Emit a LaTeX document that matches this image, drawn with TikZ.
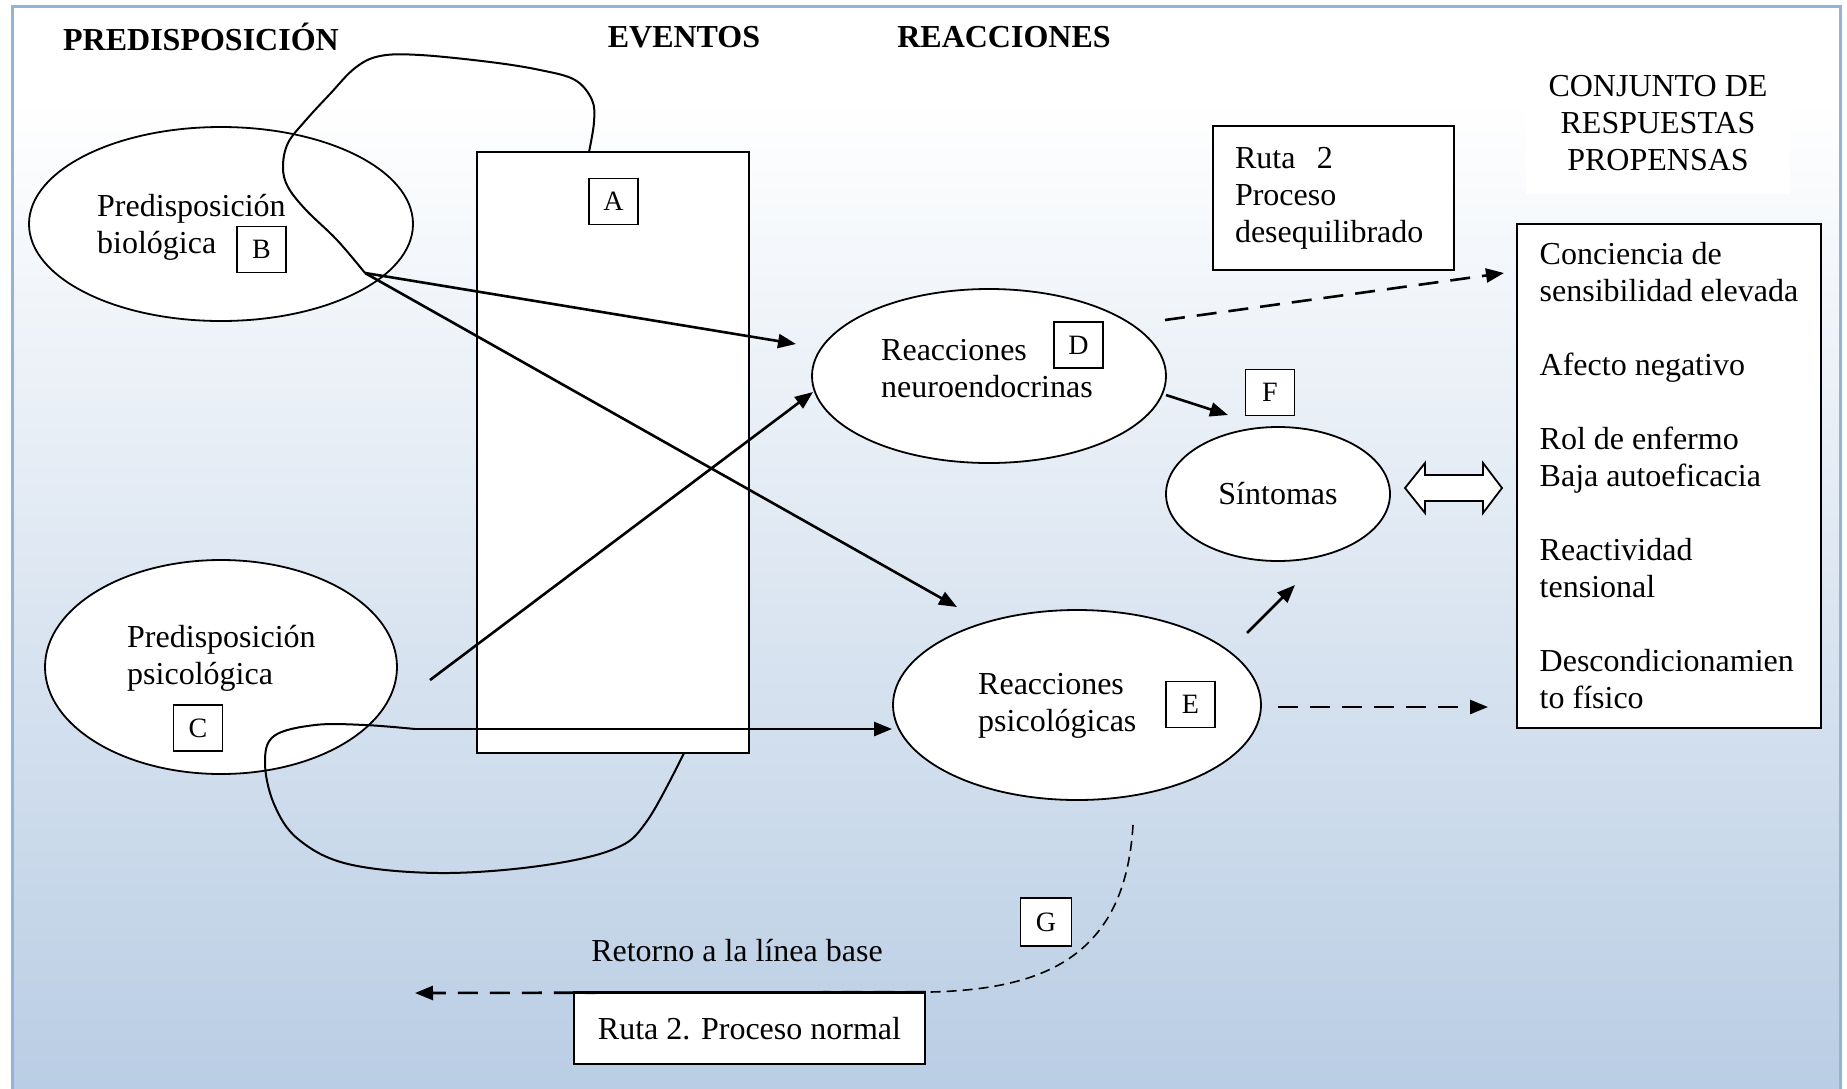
\documentclass[tikz,border=0pt]{standalone}
\usepackage{fontspec}
\setmainfont{Liberation Serif}
\usetikzlibrary{arrows.meta,shapes.geometric}
\definecolor{bgblue}{HTML}{B9CDE4}
\definecolor{frameblue}{HTML}{95B3D7}
\newcommand\bodyfont{\fontsize{32}{37}\selectfont}
\newcommand\letterfont{\fontsize{28}{32}\selectfont}
\tikzset{
  ell/.style={ellipse, draw, fill=white, line width=1.8pt, inner sep=0pt, outer sep=0pt},
  lbox/.style={rectangle, draw, fill=white, line width=1.8pt, minimum width=49pt,
               minimum height=46pt, inner sep=0pt, font=\letterfont},
  frame/.style={rectangle, draw, fill=white, line width=1.8pt, inner sep=0pt},
  txt/.style={align=left, anchor=west, inner sep=0pt, font=\bodyfont},
  head/.style={inner sep=0pt, font=\bodyfont\bfseries},
  conn/.style={line width=2.6pt, -{Triangle[length=18pt,width=14pt]}},
  dconn/.style={conn, dash pattern=on 20pt off 12pt},
  loopline/.style={line width=2pt},
}
\begin{document}
\begin{tikzpicture}[x=1pt,y=-1pt]
\useasboundingbox (0,0) rectangle (1847,1088);

% page background: white top fading to light blue
\fill[white] (0,0) rectangle (1847,1088);
\fill[white] (12,6) rectangle (1840,100);
\shade[top color=white, bottom color=bgblue] (12,100) rectangle (1840,1088);
\draw[frameblue, line width=3pt] (12,1090) -- (12,6) -- (1840,6) -- (1840,1090);

% column headings
\node[head] (hPre) at (201,37) {PREDISPOSICIÓN};
\node[head] (hEve) at (684,37) {EVENTOS};
\node[head] (hRea) at (1004,37) {REACCIONES};
\node[fill=white, inner sep=0pt, minimum width=264pt, minimum height=142pt,
      align=center, font=\bodyfont] (hConj) at (1658,123)
      {CONJUNTO DE\\RESPUESTAS\\PROPENSAS};

% events column
\node[frame, minimum width=272pt, minimum height=601pt] (ev) at (613,452.5) {};

% ellipses
\node[ell, minimum width=384pt, minimum height=194pt] (bio) at (221,224) {};
\node[ell, minimum width=352pt, minimum height=214pt] (psy) at (221,667) {};
\node[ell, minimum width=354pt, minimum height=174pt] (neu) at (989,376) {};
\node[ell, minimum width=368pt, minimum height=190pt] (rps) at (1077,705) {};
\node[ell, minimum width=224pt, minimum height=134pt, font=\bodyfont] (sin) at (1278,494) {Síntomas};

\node[txt] (bioT) at (97,227) {Predisposición\\biológica};
\node[txt] (psyT) at (127,658) {Predisposición\\psicológica};
\node[txt] (neuT) at (881,369) {Reacciones\\neuroendocrinas};
\node[txt] (rpsT) at (978,706) {Reacciones\\psicológicas};

% boxes on the right
\node[frame, minimum width=241pt, minimum height=144pt, text width=197pt, align=left, font=\bodyfont]
  (ruta) at (1333.5,198) {Ruta~~2\\Proceso\\desequilibrado};
\node[frame, minimum width=304pt, minimum height=504pt, align=left, font=\bodyfont]
  (resp) at (1669,476) {Conciencia de\\sensibilidad elevada\\[37pt]Afecto negativo\\[37pt]Rol de enfermo\\Baja autoeficacia\\[37pt]Reactividad\\tensional\\[37pt]Descondicionamien\\to físico};

% connection points
\coordinate (bioOut) at (365,273);
\coordinate (psyOutA) at (430,680);
\coordinate (psyOutB) at (415,729);
\coordinate (evTop) at (589,152);
\coordinate (evBot) at (684,753);
\coordinate (neuIn) at (796,344);
\coordinate (neuInB) at (813,392);
\coordinate (rpsIn) at (957,607);
\coordinate (rpsInB) at (892,729);
\coordinate (neuOut) at (1166,395);
\coordinate (sinInA) at (1228,415);
\coordinate (rpsOut) at (1247,633);
\coordinate (sinInB) at (1295,585);
\coordinate (neuOutD) at (1165,320);
\coordinate (respInA) at (1504,273);
\coordinate (rpsOutD) at (1278,707);
\coordinate (respInB) at (1488,707);
\coordinate (rpsDown) at (1133,825);
\coordinate (baseEnd) at (415,993);

% loops linking the events column with the predispositions
\draw[loopline] plot[smooth, tension=0.6] coordinates {
  (evTop) (594,122) (592,100) (575,80) (540,70) (490,62) (420,55) (380,56)
  (355,68) (330,94) (306,120) (288,143) (283,167) (288,187) (306,210) (337,240) (bioOut)};
\draw[loopline] plot[smooth, tension=0.6] coordinates {
  (evBot) (647,821) (614,849) (539,866) (439,873) (348,864) (298,839) (274,804)
  (265,763) (274,736) (315,725) (365,725) (psyOutB)};

% solid connectors
\draw[conn] (bioOut) -- (neuIn);
\draw[conn] (bioOut) -- (rpsIn);
\draw[conn] (psyOutA) -- (neuInB);
\draw[conn] (psyOutB) -- (rpsInB);
\draw[conn] (neuOut) -- (sinInA);
\draw[conn] (rpsOut) -- (sinInB);

% dashed connectors
\draw[dconn] (neuOutD) -- (respInA);
\draw[dconn] (rpsOutD) -- (respInB);

% return to baseline
\node[frame, minimum width=351pt, minimum height=71pt, font=\bodyfont] (normal) at (749.5,1028.5) {Ruta 2. Proceso normal};
\draw[line width=1.6pt, dash pattern=on 10pt off 6pt] (rpsDown) .. controls (1125,960) and (1040,990) .. (normal.north east);
\draw[dconn] (normal.north east) -- (baseEnd);
\draw[line width=1.8pt] (normal.north west) -- (normal.north east);
\node[inner sep=0pt, font=\bodyfont] (ret) at (737,951) {Retorno a la línea base};

% double-headed arrow between symptoms and responses
\draw[fill=white, line width=1.8pt] (1405,488) -- (1425,463) -- (1425,475) -- (1483,475)
  -- (1483,463) -- (1502,488) -- (1483,513) -- (1483,501) -- (1425,501) -- (1425,513) -- cycle;

% letter labels
\node[lbox] (lA) at (613.5,201.5) {A};
\node[lbox] (lB) at (261.5,249.5) {B};
\node[lbox] (lC) at (198,728) {C};
\node[lbox] (lD) at (1078.5,345) {D};
\node[lbox] (lE) at (1190.5,704.5) {E};
\node[lbox] (lF) at (1270,392.5) {F};
\node[lbox, minimum width=51pt, minimum height=48pt] (lG) at (1046,922) {G};
\end{tikzpicture}
\end{document}
